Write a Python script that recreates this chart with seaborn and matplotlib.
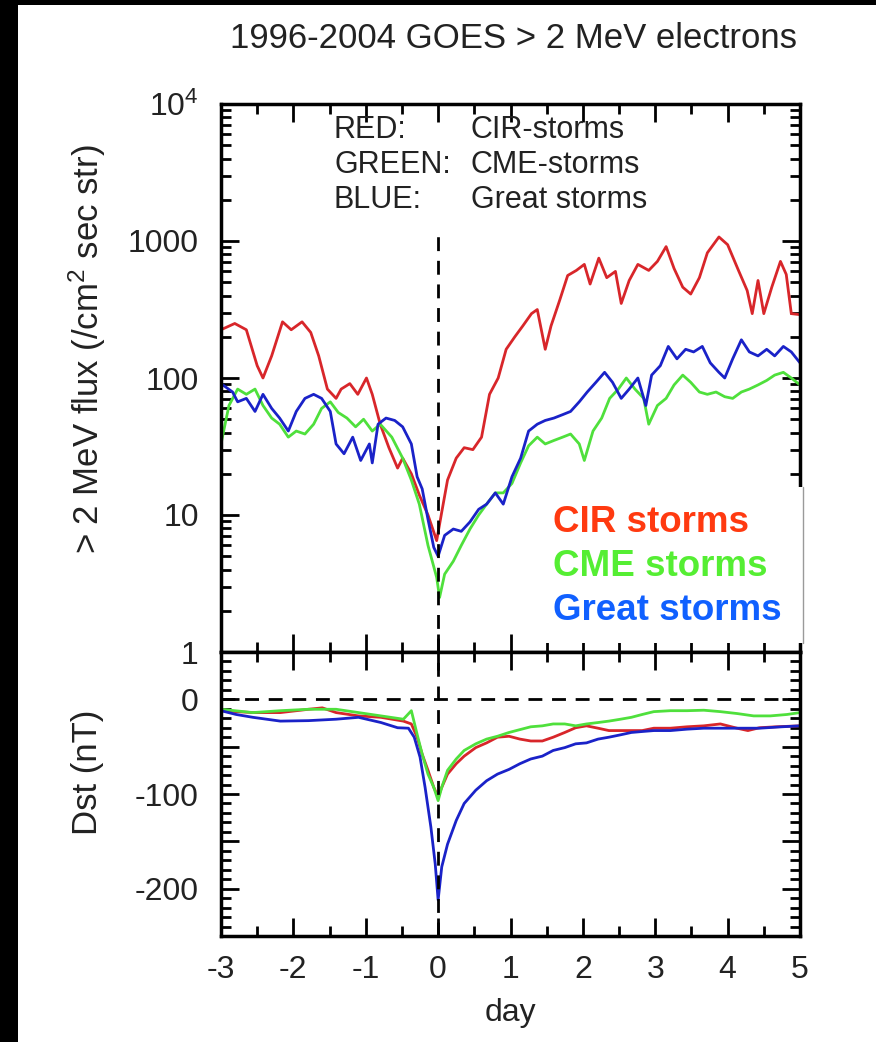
import matplotlib
matplotlib.use("Agg")
import matplotlib.pyplot as plt
from matplotlib.patches import Rectangle
from matplotlib.lines import Line2D
from matplotlib.ticker import MultipleLocator, FixedLocator, FixedFormatter, FuncFormatter, LogLocator, NullFormatter
import numpy as np
import pandas as pd
import seaborn as sns

# ---------------- data ----------------
# superposed-epoch averages, day 0 = storm onset
flux_days_cir = [-3.0, -2.81, -2.65, -2.50, -2.42, -2.30, -2.15, -2.03, -1.88, -1.76,
                 -1.65, -1.53, -1.41, -1.34, -1.22, -1.11, -0.99, -0.91, -0.80, -0.68,
                 -0.56, -0.49, -0.37, -0.26, -0.14, -0.02, 0.05, 0.13, 0.25, 0.36,
                 0.48, 0.60, 0.71, 0.83, 0.94, 1.06, 1.17, 1.29, 1.37, 1.48,
                 1.56, 1.68, 1.79, 1.91, 2.02, 2.10, 2.22, 2.33, 2.45, 2.53,
                 2.64, 2.76, 2.91, 3.03, 3.15, 3.26, 3.38, 3.49, 3.61, 3.72,
                 3.88, 4.00, 4.15, 4.27, 4.34, 4.42, 4.50, 4.61, 4.73, 4.81,
                 4.88, 5.00]
flux_cir = [225, 250, 225, 123, 100, 145, 257, 225, 257, 215,
            145, 83, 71, 83, 91, 76, 100, 76, 46, 31,
            22, 26, 20, 14, 10, 6.5, 10.5, 18, 26, 31,
            30, 37, 76, 100, 162, 200, 240, 295, 316, 162,
            240, 370, 560, 610, 675, 485, 750, 540, 600, 350,
            515, 675, 610, 710, 910, 630, 460, 410, 540, 820,
            1070, 940, 610, 435, 295, 515, 295, 460, 710, 570,
            295, 290]

flux_days_cme = [-3.0, -2.89, -2.77, -2.65, -2.53, -2.42, -2.30, -2.19, -2.07, -1.96,
                 -1.84, -1.72, -1.61, -1.49, -1.38, -1.26, -1.14, -1.03, -0.91, -0.80,
                 -0.64, -0.49, -0.37, -0.26, -0.14, -0.02, 0.02, 0.09, 0.21, 0.32,
                 0.44, 0.56, 0.67, 0.79, 0.90, 1.02, 1.14, 1.25, 1.37, 1.48,
                 1.60, 1.72, 1.83, 1.95, 2.02, 2.14, 2.26, 2.37, 2.49, 2.60,
                 2.72, 2.84, 2.91, 3.03, 3.15, 3.26, 3.38, 3.49, 3.61, 3.72,
                 3.84, 3.96, 4.07, 4.19, 4.30, 4.42, 4.54, 4.65, 4.77, 4.88,
                 5.00]
flux_cme = [33, 63, 83, 76, 83, 63, 51, 46, 37, 41,
            39, 46, 60, 67, 56, 51, 44, 50, 41, 46,
            37, 26, 18, 12, 6, 3.5, 2.5, 3.7, 4.6, 6,
            7.9, 10, 12, 14.5, 14.5, 17, 24, 32, 37, 33,
            35, 37, 39, 33, 25, 41, 51, 71, 83, 100,
            83, 71, 46, 63, 71, 89, 105, 93, 79, 76,
            79, 73, 71, 79, 83, 89, 96, 105, 110, 100,
            89]

flux_days_great = [-3.0, -2.84, -2.77, -2.65, -2.53, -2.42, -2.30, -2.19, -2.07, -1.96,
                   -1.84, -1.72, -1.61, -1.49, -1.41, -1.30, -1.18, -1.07, -0.95, -0.91,
                   -0.83, -0.72, -0.60, -0.49, -0.37, -0.29, -0.22, -0.14, -0.06, 0.0,
                   0.09, 0.21, 0.32, 0.44, 0.56, 0.67, 0.79, 0.90, 1.02, 1.14,
                   1.25, 1.37, 1.48, 1.60, 1.72, 1.83, 1.95, 2.06, 2.18, 2.30,
                   2.41, 2.53, 2.64, 2.76, 2.87, 2.95, 3.07, 3.18, 3.30, 3.42,
                   3.53, 3.65, 3.76, 3.88, 3.96, 4.07, 4.19, 4.30, 4.42, 4.54,
                   4.65, 4.77, 4.88, 5.00]
flux_great = [91, 79, 67, 71, 57, 76, 60, 51, 41, 57,
              71, 76, 71, 57, 33, 28, 37, 25, 33, 24,
              46, 51, 49, 44, 33, 19, 15.5, 9.3, 5.8, 5.0,
              7.1, 7.9, 7.6, 8.9, 11, 12, 14.5, 12, 19, 26,
              41, 46, 49, 51, 54, 57, 67, 79, 93, 110,
              93, 71, 83, 100, 63, 105, 123, 170, 138, 162,
              155, 170, 129, 110, 100, 138, 190, 155, 145, 162,
              145, 170, 155, 129]

dst_days_cir = [-3.0, -2.56, -2.18, -1.79, -1.60, -1.41, -1.10, -0.79, -0.48, -0.37,
                -0.29, -0.22, -0.14, -0.06, 0.0, 0.05, 0.13, 0.25, 0.36, 0.52,
                0.67, 0.82, 0.98, 1.13, 1.28, 1.44, 1.59, 1.75, 1.90, 2.05,
                2.21, 2.36, 2.52, 2.67, 2.82, 2.98, 3.21, 3.44, 3.67, 3.90,
                4.13, 4.28, 4.44, 4.67, 5.00]
dst_cir = [-12, -14, -14, -10.5, -9, -14, -17.5, -19, -23, -26,
           -40, -58, -75, -93, -103, -93, -79, -68, -60, -51,
           -46, -40, -39, -42, -44, -44, -40, -35, -30, -28,
           -30.5, -33, -33, -33, -33, -30.5, -30.5, -29, -28, -26,
           -30.5, -33, -30, -29, -28]

dst_days_cme = [-3.0, -2.56, -2.18, -1.79, -1.41, -1.10, -0.79, -0.48, -0.37, -0.29,
                -0.22, -0.14, -0.06, 0.0, 0.05, 0.13, 0.25, 0.36, 0.52, 0.67,
                0.82, 0.98, 1.13, 1.28, 1.44, 1.59, 1.75, 1.90, 2.05, 2.21,
                2.36, 2.52, 2.67, 2.82, 2.98, 3.21, 3.44, 3.67, 3.90, 4.13,
                4.36, 4.59, 4.82, 5.00]
dst_cme = [-10.5, -14, -12, -10.5, -10.5, -14, -17.5, -21, -12, -37,
           -58, -79, -93, -107, -93, -75, -63, -54, -47, -42,
           -39, -35, -32, -29, -28, -26, -26, -28, -26, -24.5,
           -23, -21, -19, -16, -13, -12, -12, -11.5, -13, -15,
           -17.5, -17.5, -16, -14]

dst_days_great = [-3.0, -2.79, -2.56, -2.18, -1.79, -1.41, -1.10, -0.79, -0.56, -0.41,
                  -0.33, -0.25, -0.18, -0.10, -0.04, 0.0, 0.05, 0.13, 0.25, 0.36,
                  0.52, 0.67, 0.82, 0.98, 1.13, 1.28, 1.44, 1.59, 1.75, 1.90,
                  2.05, 2.21, 2.36, 2.52, 2.67, 2.82, 2.98, 3.21, 3.44, 3.67,
                  3.90, 4.13, 4.44, 4.75, 5.00]
dst_great = [-12, -16, -19, -23, -22.5, -21, -19, -24.5, -30, -30.5,
             -40, -61, -93, -135, -174, -212, -177, -153, -128, -110,
             -96, -86, -79, -74, -68, -63, -60, -54, -51, -47,
             -46, -42, -40, -37.5, -35, -34, -33, -33, -31.5, -30.5,
             -30.5, -30.5, -30.5, -29, -28]

storm_types = ["CIR", "CME", "Great"]
line_colors = {"CIR": "#d8262a", "CME": "#4fe03c", "Great": "#1a22c8"}
label_texts = ["CIR storms", "CME storms", "Great storms"]
label_colors = ["#ff3a10", "#55ee33", "#1060ff"]
flux_ticks = [1, 10, 100, 1000, 10000]
flux_tick_labels = ["1", "10", "100", "1000", "$10^4$"]
day_ticks = [-3, -2, -1, 0, 1, 2, 3, 4, 5]

flux_df = pd.concat([
    pd.DataFrame({"day": flux_days_cir, "flux": flux_cir, "storm": "CIR"}),
    pd.DataFrame({"day": flux_days_cme, "flux": flux_cme, "storm": "CME"}),
    pd.DataFrame({"day": flux_days_great, "flux": flux_great, "storm": "Great"}),
], ignore_index=True)
dst_df = pd.concat([
    pd.DataFrame({"day": dst_days_cir, "dst": dst_cir, "storm": "CIR"}),
    pd.DataFrame({"day": dst_days_cme, "dst": dst_cme, "storm": "CME"}),
    pd.DataFrame({"day": dst_days_great, "dst": dst_great, "storm": "Great"}),
], ignore_index=True)

# ---------------- style ----------------
sns.set_theme(style="ticks")
plt.rcParams["font.family"] = ["Liberation Sans", "DejaVu Sans"]
plt.rcParams["mathtext.default"] = "regular"
plt.rcParams["axes.unicode_minus"] = False

W, H = 876, 1042
fig = plt.figure(figsize=(W / 100, H / 100), dpi=100, facecolor="white")


def fx(px):
    return px / W


def fy(py):
    return 1 - py / H


ax_left, ax_right = 221, 800
top_t, top_b = 104, 652
bot_t, bot_b = 652, 936
ax_top = fig.add_axes([fx(ax_left), fy(top_b), fx(ax_right - ax_left), (top_b - top_t) / H])
ax_bot = fig.add_axes([fx(ax_left), fy(bot_b), fx(ax_right - ax_left), (bot_b - bot_t) / H])

sns.lineplot(data=flux_df, x="day", y="flux", hue="storm", hue_order=storm_types,
             palette=line_colors, estimator=None, sort=False, linewidth=2.0,
             legend=False, ax=ax_top)
sns.lineplot(data=dst_df, x="day", y="dst", hue="storm", hue_order=storm_types,
             palette=line_colors, estimator=None, sort=False, linewidth=2.0,
             legend=False, ax=ax_bot)

dash = (0, (5, 3.5))
ax_top.axvline(0, ymin=0, ymax=0.775, color="black", lw=2.0, ls=dash, zorder=5)
ax_bot.axvline(0, color="black", lw=2.0, ls=dash, zorder=5)
ax_bot.axhline(0, color="black", lw=2.0, ls=dash, zorder=5)

ax_top.set_yscale("log")
ax_top.set_ylim(1, 1e4)
ax_bot.set_ylim(-250, 50)
for ax in (ax_top, ax_bot):
    ax.set_xlim(-3, 5)
    ax.set_xlabel("")
    ax.set_ylabel("")
    ax.xaxis.set_major_locator(FixedLocator(day_ticks))
    ax.xaxis.set_minor_locator(MultipleLocator(0.5))
    for s in ax.spines.values():
        s.set_linewidth(2.5)
        s.set_color("black")
        s.set_visible(True)
    ax.tick_params(which="both", direction="in", top=True, bottom=True,
                   left=True, right=True, color="black", width=2.0,
                   labelsize=23, labelcolor="#222222")
    ax.tick_params(which="major", length=13)
    ax.tick_params(which="minor", length=7)
    ax.tick_params(axis="y", pad=16)
    ax.tick_params(axis="x", pad=14)

ax_top.yaxis.set_major_locator(FixedLocator(flux_ticks))
ax_top.yaxis.set_major_formatter(FixedFormatter(flux_tick_labels))
ax_top.yaxis.set_minor_locator(LogLocator(base=10, subs=np.arange(2, 10)))
ax_top.yaxis.set_minor_formatter(NullFormatter())
ax_top.tick_params(axis="x", labelbottom=False)

ax_bot.yaxis.set_major_locator(MultipleLocator(50))
ax_bot.yaxis.set_minor_locator(MultipleLocator(10))
ax_bot.yaxis.set_major_formatter(FuncFormatter(lambda v, p: f"{int(v)}" if v % 100 == 0 else ""))
ax_bot.xaxis.set_major_formatter(FuncFormatter(lambda v, p: f"{int(v)}"))

# key text inside the flux panel
key_rows = [("RED:", "CIR-storms"), ("GREEN:", "CME-storms"), ("BLUE:", "Great storms")]
for (k, v), py in zip(key_rows, [130, 165, 200]):
    yy = 1 - (py - top_t) / (top_b - top_t)
    ax_top.text((334 - ax_left) / (ax_right - ax_left), yy, k, transform=ax_top.transAxes,
                fontsize=22, va="center", ha="left", color="#222222")
    ax_top.text((471 - ax_left) / (ax_right - ax_left), yy, v, transform=ax_top.transAxes,
                fontsize=22, va="center", ha="left", color="#222222")

# white label panel over the lower-right corner of the flux plot
fig.add_artist(Rectangle((fx(540), fy(643)), fx(803 - 540), (643 - 487) / H,
                         transform=fig.transFigure, facecolor="white",
                         edgecolor="none", zorder=10))
fig.add_artist(Line2D([fx(803), fx(803)], [fy(643), fy(487)], transform=fig.transFigure,
                      color="#9a9a9a", lw=1.0, zorder=11))
for txt, col, py in zip(label_texts, label_colors, [522, 567, 611]):
    fig.text(fx(553), fy(py), txt, color=col, fontsize=26.5, fontweight="bold",
             ha="left", va="center", zorder=12)

# titles and axis labels
fig.text(fx(514), fy(39), "1996-2004 GOES > 2 MeV electrons", fontsize=25,
         ha="center", va="center", color="#222222")
fig.text(fx(87), fy(349), "> 2 MeV flux (/cm$^2$ sec str)", fontsize=25, rotation=90,
         ha="center", va="center", color="#222222")
fig.text(fx(87), fy(772), "Dst (nT)", fontsize=25, rotation=90,
         ha="center", va="center", color="#222222")
fig.text(fx(510), fy(1013), "day", fontsize=23, ha="center", va="center", color="#222222")

# dark frame strips along the left and top edges
fig.add_artist(Rectangle((0, 0), fx(18), 1, transform=fig.transFigure,
                         facecolor="black", edgecolor="none", zorder=20))
fig.add_artist(Rectangle((0, fy(5)), 1, 5 / H, transform=fig.transFigure,
                         facecolor="black", edgecolor="none", zorder=20))

fig.savefig("out.png", dpi=100, facecolor="white")
